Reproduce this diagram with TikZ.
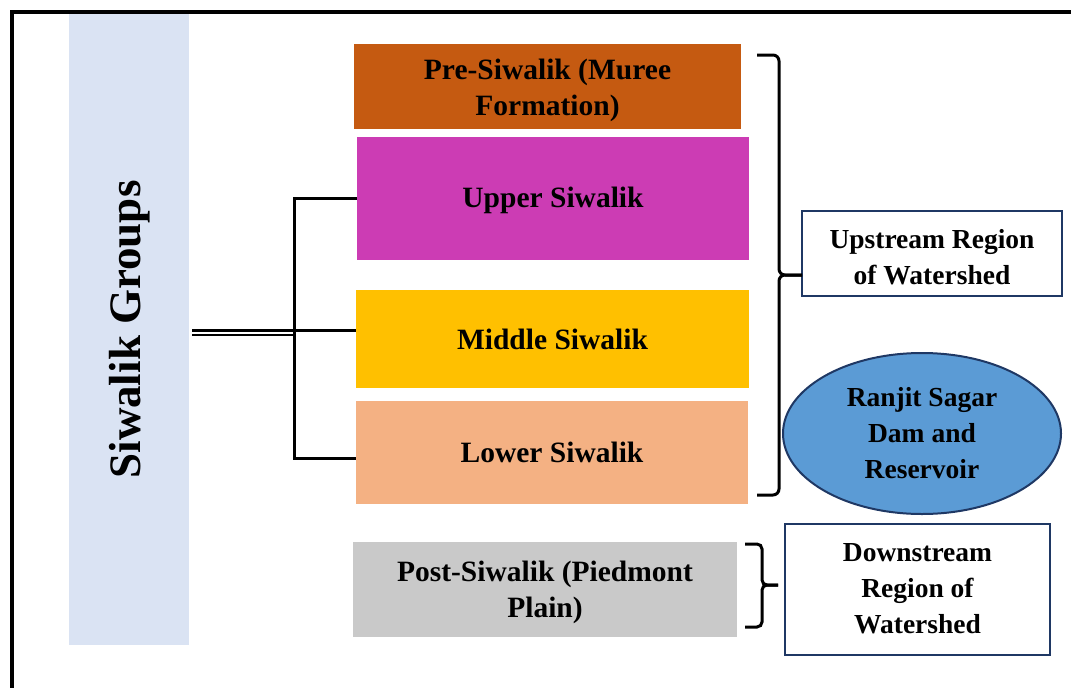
\documentclass[tikz,border=0pt]{standalone}
\usepackage{fontspec}
\setmainfont{Liberation Serif}
\usetikzlibrary{shapes.geometric}
\definecolor{sgblue}{HTML}{DAE3F3}
\definecolor{preor}{HTML}{C55A11}
\definecolor{upmag}{HTML}{CC3CB4}
\definecolor{midyel}{HTML}{FFC000}
\definecolor{lowpea}{HTML}{F4B183}
\definecolor{postgr}{HTML}{C9C9C9}
\definecolor{navy}{HTML}{1F3864}
\definecolor{ellblue}{HTML}{5B9BD5}
\newcommand{\lblfont}{\fontsize{29.5}{36}\selectfont\bfseries}
\newcommand{\rgtfont}{\fontsize{27.5}{36}\selectfont\bfseries}
\begin{document}
\begin{tikzpicture}[x=1pt,y=-1pt,
  blk/.style={anchor=north west, inner sep=0pt, outer sep=0pt},
  txt/.style={inner sep=0pt, align=center, font=\lblfont},
  rtxt/.style={inner sep=0pt, align=center, font=\rgtfont},
  conn/.style={line width=3pt, black},
  brc/.style={line width=3pt, black, rounded corners=6pt},
  wbox/.style={blk, draw=navy, line width=2pt, fill=white}]
\useasboundingbox (0,0) rectangle (1071,688);
% frame
\draw[line width=4pt] (11.5,688) -- (11.5,12) -- (1071,12);
% left group box
\node[blk, fill=sgblue, minimum width=120pt, minimum height=631pt] (sg) at (69,14) {};
\node[rotate=90, font=\fontsize{45}{52}\selectfont\bfseries, inner sep=0pt] (sgt) at ([xshift=1pt]sg.center) {Siwalik Groups};
% layer boxes
\node[blk, fill=preor, minimum width=387pt, minimum height=85pt] (ps) at (354,44) {};
\node[txt] (pst) at ([yshift=-4pt]ps.center) {Pre-Siwalik (Muree\\Formation)};
\node[blk, fill=upmag, minimum width=392pt, minimum height=123pt] (us) at (357,137) {};
\node[txt] (ust) at ([yshift=-1.5pt]us.center) {Upper Siwalik};
\node[blk, fill=midyel, minimum width=393pt, minimum height=98pt] (ms) at (356,290) {};
\node[txt] (mst) at ([yshift=-0.5pt]ms.center) {Middle Siwalik};
\node[blk, fill=lowpea, minimum width=392pt, minimum height=103pt] (ls) at (356,401) {};
\node[txt] (lst) at (ls.center) {Lower Siwalik};
\node[blk, fill=postgr, minimum width=384pt, minimum height=95pt] (po) at (353,542) {};
\node[txt] (pot) at ([yshift=-2.5pt]po.center) {Post-Siwalik (Piedmont\\Plain)};
% right side
\node[wbox, minimum width=260pt, minimum height=85pt] (up) at (802,211) {};
\node[rtxt] (upt) at ([yshift=-3.5pt]up.center) {Upstream Region\\of Watershed};
\node[ellipse, draw=navy, line width=2pt, fill=ellblue, minimum width=278pt, minimum height=161pt, inner sep=0pt, align=center, font=\rgtfont] (rs) at (922,433.5) {Ranjit Sagar\\Dam and\\Reservoir};
\node[wbox, minimum width=265pt, minimum height=131pt] (dn) at (785,524) {};
\node[rtxt] (dnt) at ([yshift=1pt]dn.center) {Downstream\\Region of\\Watershed};
% left connectors
\coordinate (jx) at (294,332.5);
\coordinate (mc) at ([yshift=9pt]ms.west);
\coordinate (lc) at ([yshift=-5.5pt]ls.west);
\draw[line width=2.5pt, double=white, double distance=2pt] ([xshift=3pt]sg.east |- jx) -- (jx);
\draw[conn] (us.west) -| (jx |- lc) -- (lc);
\draw[conn] (jx |- mc) -- (mc);
% braces
\coordinate (b1t) at (757,55);
\coordinate (b1b) at (757,495);
\draw[brc] (b1t) -- (779,55) -- (779,275) -- (up.west |- 0,275);
\draw[brc] (b1b) -- (779,495) -- (779,275) -- (up.west |- 0,275);
\coordinate (b2t) at (745,544);
\coordinate (b2b) at (745,627);
\coordinate (b2p) at (778,585);
\draw[brc, rounded corners=5pt] (b2t) -- (762,544) -- (762,585) -- (b2p);
\draw[brc, rounded corners=5pt] (b2b) -- (762,627) -- (762,585) -- (b2p);
\end{tikzpicture}
\end{document}
